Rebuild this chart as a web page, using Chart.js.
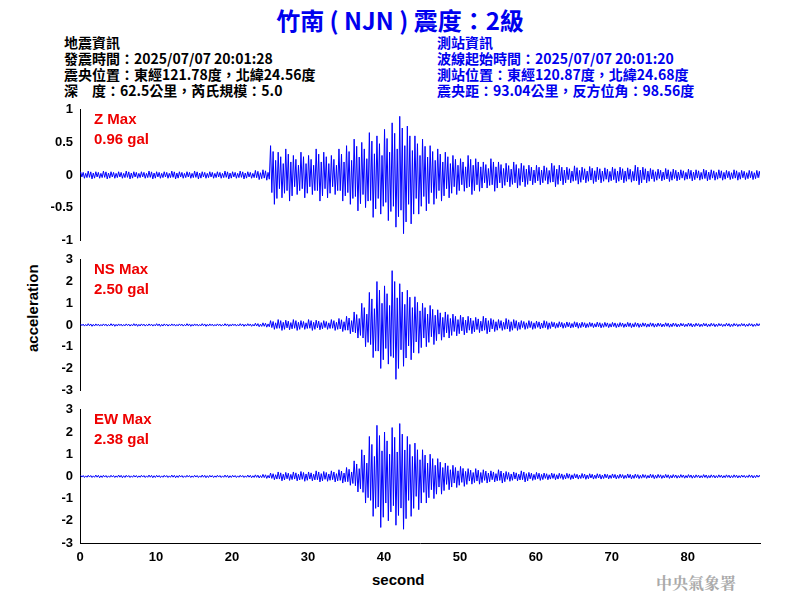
<!DOCTYPE html>
<html><head><meta charset="utf-8">
<script src="https://cdn.jsdelivr.net/npm/chart.js@4/dist/chart.umd.min.js"></script>
<style>
body{margin:0;width:800px;height:600px;position:relative;background:#fff;font-family:"Liberation Sans",Arial,sans-serif;overflow:hidden}
.t{position:absolute;white-space:nowrap;font-weight:bold}
canvas{position:absolute;left:0}
</style></head><body>
<div class="t" style="left:0;width:800px;text-align:center;top:2px;font-size:24px;color:#0000ee;font-family:'Noto Sans CJK TC',sans-serif">竹南 ( NJN ) 震度：2級</div>
<div class="t" style="left:64px;top:34px;font-size:14px;line-height:16px;font-family:'Noto Sans CJK TC',sans-serif">地震資訊<br>發震時間：2025/07/07 20:01:28<br>震央位置：東經121.78度，北緯24.56度<br>深　度：62.5公里，芮氏規模：5.0</div>
<div class="t" style="left:437px;top:34px;font-size:14px;line-height:16px;color:#0000ee;font-family:'Noto Sans CJK TC',sans-serif">測站資訊<br>波線起始時間：2025/07/07 20:01:20<br>測站位置：東經120.87度，北緯24.68度<br>震央距：93.04公里，反方位角：98.56度</div>
<div class="t" style="left:24px;font-size:15px;transform:rotate(-90deg);transform-origin:0 0;top:352px">acceleration</div>
<div class="t" style="left:372px;top:571px;font-size:15px">second</div>
<div class="t" style="left:656px;top:571px;font-size:16px;color:#aaa;font-family:'Noto Serif CJK TC','Noto Sans CJK TC',serif">中央氣象署</div>
<canvas id="cZ" width="800" height="150" style="top:100px"></canvas>
<canvas id="cN" width="800" height="150" style="top:250px"></canvas>
<canvas id="cE" width="800" height="200" style="top:400px"></canvas>
<div class="t" style="left:94px;top:109px;font-size:15px;line-height:20px;color:#ee0000">Z Max<br>0.96 gal</div>
<div class="t" style="left:94px;top:259px;font-size:15px;line-height:20px;color:#ee0000">NS Max<br>2.50 gal</div>
<div class="t" style="left:94px;top:409px;font-size:15px;line-height:20px;color:#ee0000">EW Max<br>2.38 gal</div>
<script>
// peak amplitude per second (0..89 s)
const ampZ = [0.05,0.06,0.05,0.06,0.05,0.05,0.06,0.05,0.05,0.06,0.05,0.05,0.06,0.05,0.05,0.06,0.05,0.05,0.05,0.06,0.05,0.06,0.05,0.07,0.08,0.45,0.35,0.4,0.3,0.35,0.3,0.4,0.35,0.3,0.4,0.45,0.55,0.5,0.65,0.6,0.7,0.8,0.9,0.75,0.6,0.55,0.45,0.4,0.35,0.3,0.25,0.3,0.25,0.2,0.25,0.2,0.18,0.2,0.18,0.15,0.15,0.14,0.18,0.15,0.12,0.14,0.12,0.13,0.12,0.11,0.12,0.12,0.11,0.15,0.12,0.1,0.09,0.1,0.09,0.08,0.09,0.08,0.09,0.08,0.08,0.07,0.08,0.07,0.07,0.07];
const ampNS = [0.05,0.06,0.05,0.05,0.06,0.05,0.05,0.06,0.05,0.05,0.06,0.05,0.05,0.05,0.06,0.05,0.06,0.05,0.05,0.06,0.05,0.06,0.06,0.08,0.1,0.2,0.25,0.22,0.25,0.2,0.25,0.22,0.2,0.25,0.3,0.4,0.6,1.0,1.5,2.0,1.8,2.5,1.9,1.6,1.3,1.0,0.9,0.7,0.6,0.5,0.45,0.4,0.35,0.4,0.3,0.25,0.3,0.25,0.2,0.2,0.18,0.2,0.15,0.15,0.14,0.15,0.13,0.12,0.13,0.12,0.12,0.11,0.12,0.11,0.1,0.1,0.09,0.1,0.09,0.08,0.09,0.08,0.08,0.08,0.07,0.08,0.07,0.07,0.07,0.07];
const ampEW = [0.05,0.05,0.06,0.05,0.05,0.06,0.05,0.05,0.05,0.06,0.05,0.05,0.06,0.05,0.05,0.05,0.06,0.05,0.05,0.06,0.05,0.05,0.06,0.07,0.09,0.15,0.2,0.18,0.2,0.22,0.2,0.25,0.22,0.25,0.3,0.4,0.7,1.2,1.8,2.3,2.0,2.2,2.38,1.8,1.5,1.2,1.0,0.8,0.6,0.5,0.45,0.35,0.35,0.3,0.25,0.3,0.22,0.2,0.25,0.18,0.18,0.15,0.15,0.14,0.14,0.12,0.13,0.12,0.12,0.11,0.11,0.1,0.11,0.1,0.09,0.1,0.09,0.09,0.08,0.08,0.08,0.07,0.08,0.07,0.07,0.07,0.07,0.06,0.07,0.06];
const xTicks = [0,10,20,30,40,50,60,70,80];
// relative swing within each second
const swing = [1, -0.6, 0.8, -1, 0.5, -0.8];

function trace(amp) {
  const pts = [];
  amp.forEach((a, s) => {
    swing.forEach((k, i) => pts.push({x: s + (i + 0.5) / swing.length, y: a * k}));
  });
  return pts;
}

function panel(id, amp, lim, step, bottom) {
  new Chart(document.getElementById(id), {
    type: "line",
    data: {datasets: [{data: trace(amp), borderColor: "#0000ff", borderWidth: 1, pointRadius: 0, tension: 0}]},
    options: {
      responsive: false, animation: false,
      layout: {padding: {top: 8, bottom: bottom ? 0 : 7, right: 40}},
      plugins: {legend: {display: false}, tooltip: {enabled: false}},
      scales: {
        x: {
          type: "linear", min: 0, max: 89.5,
          display: bottom,
          afterBuildTicks: ax => { ax.ticks = xTicks.map(v => ({value: v})); },
          afterFit: ax => { if (bottom) ax.height = 57; },
          grid: {display: false, drawTicks: true, tickLength: 5, color: "#000"},
          border: {color: "#000", width: 1},
          ticks: {color: "#000", font: {size: 13, weight: "bold", family: "Liberation Sans"}, maxRotation: 0, padding: 2}
        },
        y: {
          min: -lim, max: lim,
          afterBuildTicks: ax => {
            const t = [];
            for (let v = -lim; v <= lim + 1e-9; v += step) t.push({value: +v.toFixed(2)});
            ax.ticks = t;
          },
          afterFit: ax => { ax.width = 80; },
          grid: {display: false, drawTicks: true, tickLength: 5, color: "#000"},
          border: {color: "#000", width: 1},
          ticks: {color: "#000", font: {size: 13, weight: "bold", family: "Liberation Sans"}, padding: 2,
                  callback: v => String(v)}
        }
      }
    }
  });
}

panel("cZ", ampZ, 1, 0.5, false);
panel("cN", ampNS, 3, 1, false);
panel("cE", ampEW, 3, 1, true);
</script>
</body></html>
